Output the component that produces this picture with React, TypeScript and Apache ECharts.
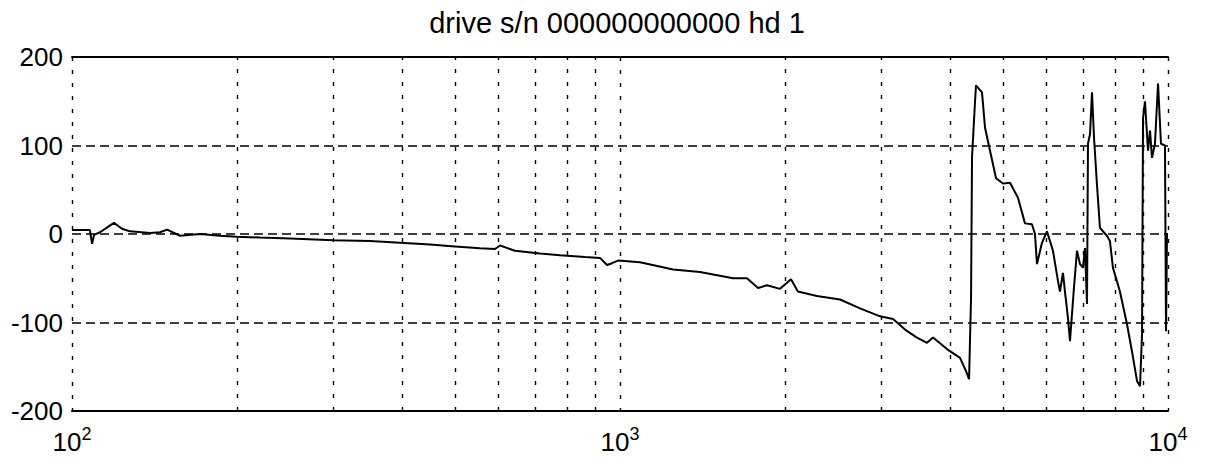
import React, { useEffect, useRef } from "react";
import * as echarts from "echarts";

// Frequency points (Hz) of the measured phase trace
const freqHz = [
  100, 103.4, 107.8, 108.8, 109.7, 112.5, 116.3, 119.3, 123.4, 127.6,
  138.8, 144.7, 149.1, 157.4, 171.3, 186.2, 200, 220.3, 249.9, 299.5,
  349.9, 396.8, 450.2, 500, 555.3, 591.4, 604, 643.3, 714.5, 777.2,
  863.5, 919.3, 946.9, 967, 991.7, 1087.7, 1250, 1399.6, 1608, 1705,
  1786, 1854, 1959, 2051, 2112, 2288, 2520, 2742, 2982, 3150,
  3312, 3483, 3633, 3726, 3951, 4173, 4280, 4335, 4371, 4389,
  4445, 4463, 4577, 4636, 4734, 4855, 4999, 5148, 5324, 5483,
  5646, 5718, 5766, 5889, 6014, 6167, 6298, 6351, 6432, 6486,
  6569, 6624, 6737, 6822, 6908, 6996, 7055, 7115, 7145, 7206,
  7266, 7328, 7419, 7513, 7737, 7835, 7934, 8171, 8418, 8597,
  8779, 8891, 8966, 9004, 9078, 9194, 9272, 9349, 9467, 9590,
  9710, 9874, 9917, 9958, 10000,
];

// Phase (degrees) at each frequency
const phaseDeg = [
  4.5, 4.5, 4.5, -11, -1, 2, 8, 12.5, 6, 3,
  1, 2, 5, -2, 0, -2, -3, -4, -5, -7,
  -8, -10, -12, -14, -16, -17, -13, -19, -22, -24,
  -26, -27, -35, -33, -30, -32, -40, -43, -50, -50,
  -61, -58, -62, -51, -65, -70, -74, -84, -93, -96,
  -108, -117, -123, -117, -130, -140, -155, -164, -72, 86,
  150, 168, 160, 120, 94, 63, 57, 58, 41, 12,
  11, 0, -34, -10, 3, -19, -53, -65, -44, -65,
  -95, -121, -60, -19, -34, -38, -16, -79, 102, 113,
  160, 109, 56, 7, -2, -8, -38, -65, -102, -133,
  -166, -172, -113, 131, 150, 94, 117, 86, 102, 170,
  102, 100, -110, 0, 0,
];

// Minor decade grid lines
const minorGridHz = [200, 300, 400, 500, 600, 700, 800, 900, 2000, 3000, 4000, 5000, 6000, 7000, 8000, 9000];

const titleText = "drive s/n 000000000000 hd 1";
const FONT = "'Liberation Sans', Arial, sans-serif";

export default function App() {
  const ref = useRef<HTMLDivElement>(null);

  useEffect(() => {
    if (!ref.current) return;
    const chart = echarts.init(ref.current, null, { renderer: "svg" });
    const data = freqHz.map((f, i) => [f, phaseDeg[i]]);

    chart.setOption({
      animation: false,
      backgroundColor: "#ffffff",
      grid: { left: 72, right: 40, top: 57, bottom: 50, containLabel: false },
      graphic: [
        {
          type: "text",
          x: 617,
          y: 23,
          style: {
            text: titleText,
            font: `29px ${FONT}`,
            fill: "#000",
            textAlign: "center",
            textVerticalAlign: "middle",
          },
        },
      ],
      xAxis: [
        {
          type: "log",
          logBase: 10,
          min: 100,
          max: 10000,
          splitNumber: 2,
          axisLine: { show: true, onZero: false, lineStyle: { color: "#000", width: 2 } },
          axisTick: { show: false },
          splitLine: { show: true, lineStyle: { color: "#000", width: 1.4, type: [4, 9] } },
          axisLabel: {
            margin: 14,
            formatter: (v: number) => `{b|10}{s|${Math.round(Math.log10(v))}}`,
            rich: {
              b: { fontFamily: FONT, fontSize: 26, color: "#000", lineHeight: 34 },
              s: { fontFamily: FONT, fontSize: 18, color: "#000", verticalAlign: "top", lineHeight: 18 },
            },
          },
        },
        {
          type: "log",
          logBase: 10,
          min: 100,
          max: 10000,
          position: "top",
          axisLine: { show: true, onZero: false, lineStyle: { color: "#000", width: 2 } },
          axisTick: { show: false },
          axisLabel: { show: false },
          splitLine: { show: false },
        },
      ],
      yAxis: {
        type: "value",
        min: -200,
        max: 200,
        interval: 100,
        axisLine: { show: false },
        axisTick: { show: false },
        axisLabel: { margin: 9, fontFamily: FONT, fontSize: 26, color: "#000" },
        splitLine: { show: true, lineStyle: { color: "#000", width: 1.6, type: [9, 5] } },
      },
      series: [
        {
          type: "line",
          data,
          showSymbol: false,
          symbol: "none",
          lineStyle: { color: "#000", width: 2 },
          markLine: {
            silent: true,
            symbol: ["none", "none"],
            label: { show: false },
            lineStyle: { color: "#000", width: 1.4, type: [4, 9] },
            data: minorGridHz.map((f) => ({ xAxis: f })),
          },
        },
      ],
    });

    return () => chart.dispose();
  }, []);

  return (
    <div
      ref={ref}
      style={{ position: "fixed", left: 0, top: 0, width: 1208, height: 461, background: "#fff" }}
    />
  );
}
